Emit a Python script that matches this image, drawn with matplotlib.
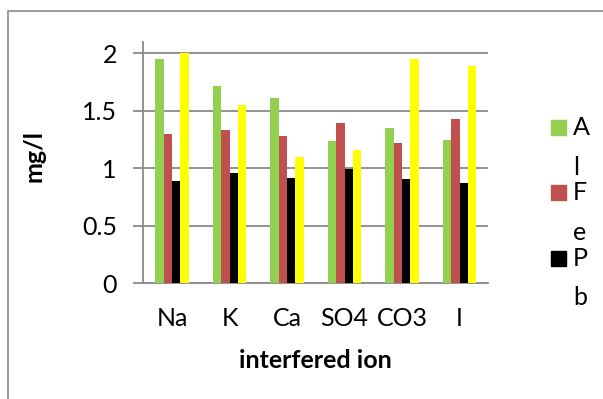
import matplotlib.pyplot as plt
import numpy as np
from matplotlib.patches import Rectangle

plt.rcParams['font.family'] = ['Lato', 'DejaVu Sans']

ions = ['Na', 'K', 'Ca', 'SO4', 'CO3', 'I']
al = [1.95, 1.72, 1.61, 1.24, 1.35, 1.25]
fe = [1.30, 1.33, 1.28, 1.39, 1.22, 1.43]
pb = [0.89, 0.96, 0.92, 0.99, 0.91, 0.87]
series4 = [2.00, 1.55, 1.10, 1.16, 1.95, 1.89]

legend_labels = ['A\nl', 'F\ne', 'P\nb']
colors = ['#92D050', '#C0504D', '#000000', '#FFFF00']
grid_col = '#8A8A8A'
fs = 18

fig = plt.figure(figsize=(6.03, 3.99), dpi=100)
ax = fig.add_axes([143.3 / 603, 115.7 / 399, 345 / 603, 241.5 / 399])

x = np.arange(len(ions))
w = 0.145
for i, vals in enumerate([al, fe, pb, series4]):
    ax.bar(x + (i - 1.5) * w, vals, w, color=colors[i], zorder=3)

ax.set_xlim(-0.5, len(ions) - 0.5)
ax.set_ylim(0, 2.1)
ax.set_yticks([0, 0.5, 1, 1.5, 2])
ax.set_yticklabels(['0', '0.5', '1', '1.5', '2'])
ax.set_xticks(x)
ax.set_xticklabels(ions)

ax.grid(axis='y', color=grid_col, linewidth=1.3, zorder=0)
ax.tick_params(axis='y', length=7, width=1.3, color=grid_col, pad=12, labelsize=fs)
ax.tick_params(axis='x', length=0, pad=17, labelsize=fs)
for side in ['top', 'right']:
    ax.spines[side].set_visible(False)
for side in ['left', 'bottom']:
    ax.spines[side].set_color(grid_col)
    ax.spines[side].set_linewidth(1.3)

# axis titles
fig.text(315 / 603, 1 - 368 / 399, 'interfered ion', fontsize=fs,
         fontweight='bold', ha='center', va='baseline')
fig.text(34 / 603, 1 - 156 / 399, 'mg/l', fontsize=fs, fontweight='bold',
         rotation=90, ha='center', va='center')

# legend: label text wraps one letter per line
for i, lab in enumerate(legend_labels):
    yc = 127.5 + i * 65.3
    fig.add_artist(Rectangle((551 / 603, 1 - (yc + 7.5) / 399), 15 / 603, 15 / 399,
                             transform=fig.transFigure, color=colors[i]))
    fig.text(573 / 603, 1 - (yc + 47) / 399, lab, fontsize=fs,
             ha='left', va='baseline', linespacing=1.86)

# chart frame
fig.add_artist(Rectangle((8 / 603, -0.1), 1.2, 1 - 11 / 399 + 0.1,
                         transform=fig.transFigure, fill=False,
                         edgecolor=grid_col, linewidth=1.2))

fig.savefig('out.png', dpi=100)
